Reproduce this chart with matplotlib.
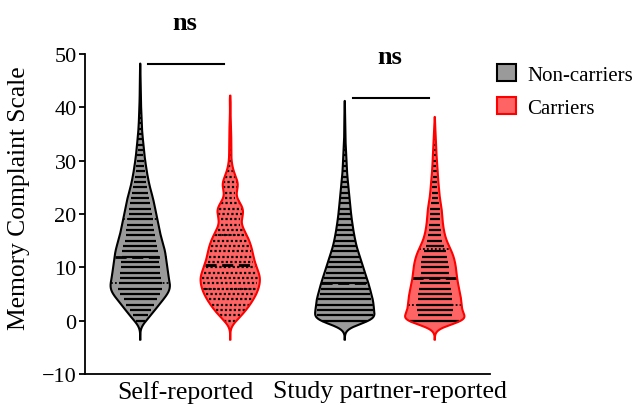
import numpy as np
import matplotlib
matplotlib.use("Agg")
import matplotlib.pyplot as plt
from matplotlib import mlab
from matplotlib.patches import Patch

plt.rcParams["font.family"] = ["Liberation Serif", "DejaVu Serif"]

groups = ["Self-reported", "Study partner-reported"]
series = ["Non-carriers", "Carriers"]

# participants at each integer score, first entry is score 0
self_noncarriers = [12, 20, 27, 36, 43, 52, 58, 56, 53, 52, 51, 49, 48, 47, 44, 41,
                    38, 36, 34, 32, 30, 28, 26, 24, 21, 18, 16, 14, 12, 11, 9, 8,
                    7, 6, 5, 4, 3, 3, 2, 2, 2, 1, 1, 1, 1, 1, 0, 1]
self_carriers = [6, 11, 15, 19, 22, 25, 27, 28, 29, 27, 25, 23, 22, 21, 20, 18,
                 16, 13, 10, 10, 13, 13, 10, 5, 5, 8, 8, 5, 3, 2, 1, 1,
                 1, 1, 1, 1, 1, 0, 1, 0, 0, 1]
partner_noncarriers = [70, 56, 55, 55, 54, 50, 48, 45, 42, 38, 35, 32, 29, 25, 22, 20,
                       18, 16, 15, 13, 12, 11, 10, 9, 8, 7, 6, 5, 4, 4, 3, 3,
                       2, 2, 1, 1, 1, 1, 1, 0, 1]
partner_carriers = [100, 58, 60, 60, 58, 57, 54, 51, 49, 48, 47, 45, 42, 38, 31, 26,
                    22, 20, 18, 17, 16, 16, 13, 11, 10, 9, 8, 7, 6, 5, 5, 4,
                    3, 3, 2, 2, 1, 1]

sig_labels = ["ns", "ns"]
sig_heights = [48.2, 41.8]

GREY, GREY_EDGE = "#9a9a9a", "black"
RED, RED_EDGE = "#ff6464", "#ff0000"
HALF = 0.145   # widest half-width of a violin, in x units
BW = 1.0       # kernel width, in score units


def violin(ax, counts, pos, face, edge, row_style, row_frac):
    counts = np.asarray(counts)
    scores = np.arange(len(counts))
    data = np.repeat(scores, counts).astype(float)
    kde = mlab.GaussianKDE(data, bw_method=BW / data.std())
    y = np.linspace(data.min() - 3.5 * BW, data.max() + 1.2 * BW, 600)
    half = kde.evaluate(y)
    half = half / half.max() * HALF

    ax.fill_betweenx(y, pos - half, pos + half, facecolor=face,
                     edgecolor="none", zorder=1)
    ax.plot(np.r_[pos - half, (pos + half)[::-1], pos - half[0]],
            np.r_[y, y[::-1], y[0]], color=edge, lw=1.5, zorder=4)

    # one row of points per score, length follows the count
    keep = counts > 0
    rows = counts / counts.max() * row_frac * HALF
    rows = np.minimum(rows, np.interp(scores, y, half) * 0.95)
    ax.hlines(scores[keep], pos - rows[keep], pos + rows[keep], colors="black",
              lw=1.6, linestyles=[row_style], zorder=2)

    q1, med, q3 = np.percentile(data, [25, 50, 75])
    for q, ls, lw in [(q1, (0, (1, 1.2)), 1.3), (med, (0, (4, 2)), 2.0),
                      (q3, (0, (1, 1.2)), 1.3)]:
        w = np.interp(q, y, half)
        ax.hlines(q, pos - w, pos + w, colors="black", lw=lw,
                  linestyles=[ls], zorder=3)


fig = plt.figure(figsize=(6.4, 4.1), dpi=100)
ax = fig.add_axes([85 / 640, 35 / 410, 405 / 640, 320 / 410])

violin(ax, self_noncarriers, -0.22, GREY, GREY_EDGE, "solid", 0.75)
violin(ax, self_carriers, 0.22, RED, RED_EDGE, (0, (1, 1)), 0.95)
violin(ax, partner_noncarriers, 0.78, GREY, GREY_EDGE, "solid", 1.2)
violin(ax, partner_carriers, 1.22, RED, RED_EDGE, "solid", 1.0)

for i, (lab, h) in enumerate(zip(sig_labels, sig_heights)):
    ax.plot([i - 0.18, i + 0.19], [h, h], color="black", lw=1.5, clip_on=False)
    ax.text(i, h + 7.8, lab, ha="center", va="center", fontsize=19,
            fontweight="bold", clip_on=False)

ax.set_xlim(-0.49, 1.49)
ax.set_ylim(-10, 50)
ax.set_yticks(range(-10, 51, 10))
ax.set_xticks(range(len(groups)))
ax.set_xticklabels(groups, fontsize=18.5)
ax.tick_params(axis="y", labelsize=16, direction="out", length=4, width=1.3, pad=2)
ax.tick_params(axis="x", direction="out", length=0, width=1.3, pad=4)
ax.set_ylabel("Memory Complaint Scale", fontsize=18.4)
ax.yaxis.set_label_coords(-0.135, 0.553)
for side in ["top", "right"]:
    ax.spines[side].set_visible(False)
for side in ["left", "bottom"]:
    ax.spines[side].set_linewidth(1.3)

handles = [Patch(facecolor=GREY, edgecolor=GREY_EDGE, lw=1.5),
           Patch(facecolor=RED, edgecolor=RED_EDGE, lw=1.5)]
fig.legend(handles, series, loc="upper left", bbox_to_anchor=(478 / 640, 364 / 410),
           frameon=False, fontsize=15, handlelength=0.9, handleheight=0.9,
           handletextpad=0.55, labelspacing=0.6)

fig.savefig("out.png", dpi=100)
